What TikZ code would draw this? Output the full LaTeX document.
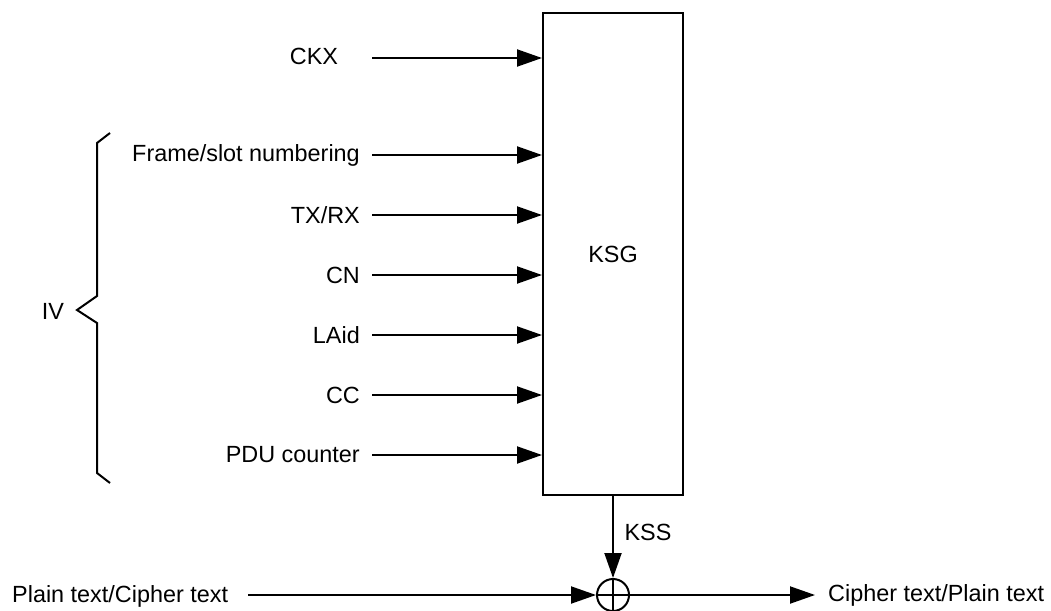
\documentclass[tikz,border=0pt]{standalone}
\usepackage{fontspec}
\setmainfont{Liberation Sans}
\usetikzlibrary{arrows.meta}
\begin{document}
\begin{tikzpicture}[x=1pt,y=-1pt,
  lbl/.style={font=\fontsize{23.4}{28}\selectfont, inner sep=0pt},
  conn/.style={line width=2pt},
  arr/.style={conn, -{Triangle[length=25pt,width=17pt]}},
  blockbox/.style={draw, line width=2pt, minimum width=140pt, minimum height=482pt, inner sep=0pt, font=\fontsize{23.4}{28}\selectfont},
  xorc/.style={circle, draw, line width=2pt, minimum size=32pt, inner sep=0pt}]
\useasboundingbox (0,0) rectangle (1051,610);
% KSG block
\node[blockbox] (ksg) at (613,254) {KSG};
% inputs
\node[lbl] (ckx) at (314,56) {CKX};
\coordinate (s0) at (372,58);
\draw[arr] (s0) -- (s0 -| ksg.west);
\node[lbl, anchor=east] (fsn) at (360,155) {Frame/slot numbering};
\coordinate (s1) at (372,155);
\draw[arr] (s1) -- (s1 -| ksg.west);
\node[lbl, anchor=east] (txrx) at (360,215) {TX/RX};
\coordinate (s2) at (372,215);
\draw[arr] (s2) -- (s2 -| ksg.west);
\node[lbl, anchor=east] (cn) at (360,275) {CN};
\coordinate (s3) at (372,275);
\draw[arr] (s3) -- (s3 -| ksg.west);
\node[lbl, anchor=east] (laid) at (360,335) {LAid};
\coordinate (s4) at (372,335);
\draw[arr] (s4) -- (s4 -| ksg.west);
\node[lbl, anchor=east] (cc) at (360,395) {CC};
\coordinate (s5) at (372,395);
\draw[arr] (s5) -- (s5 -| ksg.west);
\node[lbl, anchor=east] (pdu) at (360,455) {PDU counter};
\coordinate (s6) at (372,455);
\draw[arr] (s6) -- (s6 -| ksg.west);
% brace
\draw[conn, line join=miter] (110,133) -- (97,143) -- (97,296) -- (77,310) -- (97,323) -- (97,473) -- (110,483);
\node[lbl] (iv) at (53,311) {IV};
% combiner
\node[xorc] (xor) at (613,595) {};
\draw[conn] (xor.north) -- (xor.south);
\draw[conn] (xor.west) -- (xor.east);
\draw[arr] (ksg.south) -- (xor.north);
\node[lbl] (kss) at (648,532) {KSS};
\node[lbl, anchor=west] (pin) at (12,596) {Plain text/Cipher text};
\coordinate (p0) at (248,595);
\draw[arr] (p0) -- (xor.west);
\node[lbl, anchor=west] (pout) at (828,595) {Cipher text/Plain text};
\draw[arr] (xor.east) -- (pout.west -| 815,0);
\end{tikzpicture}
\end{document}
